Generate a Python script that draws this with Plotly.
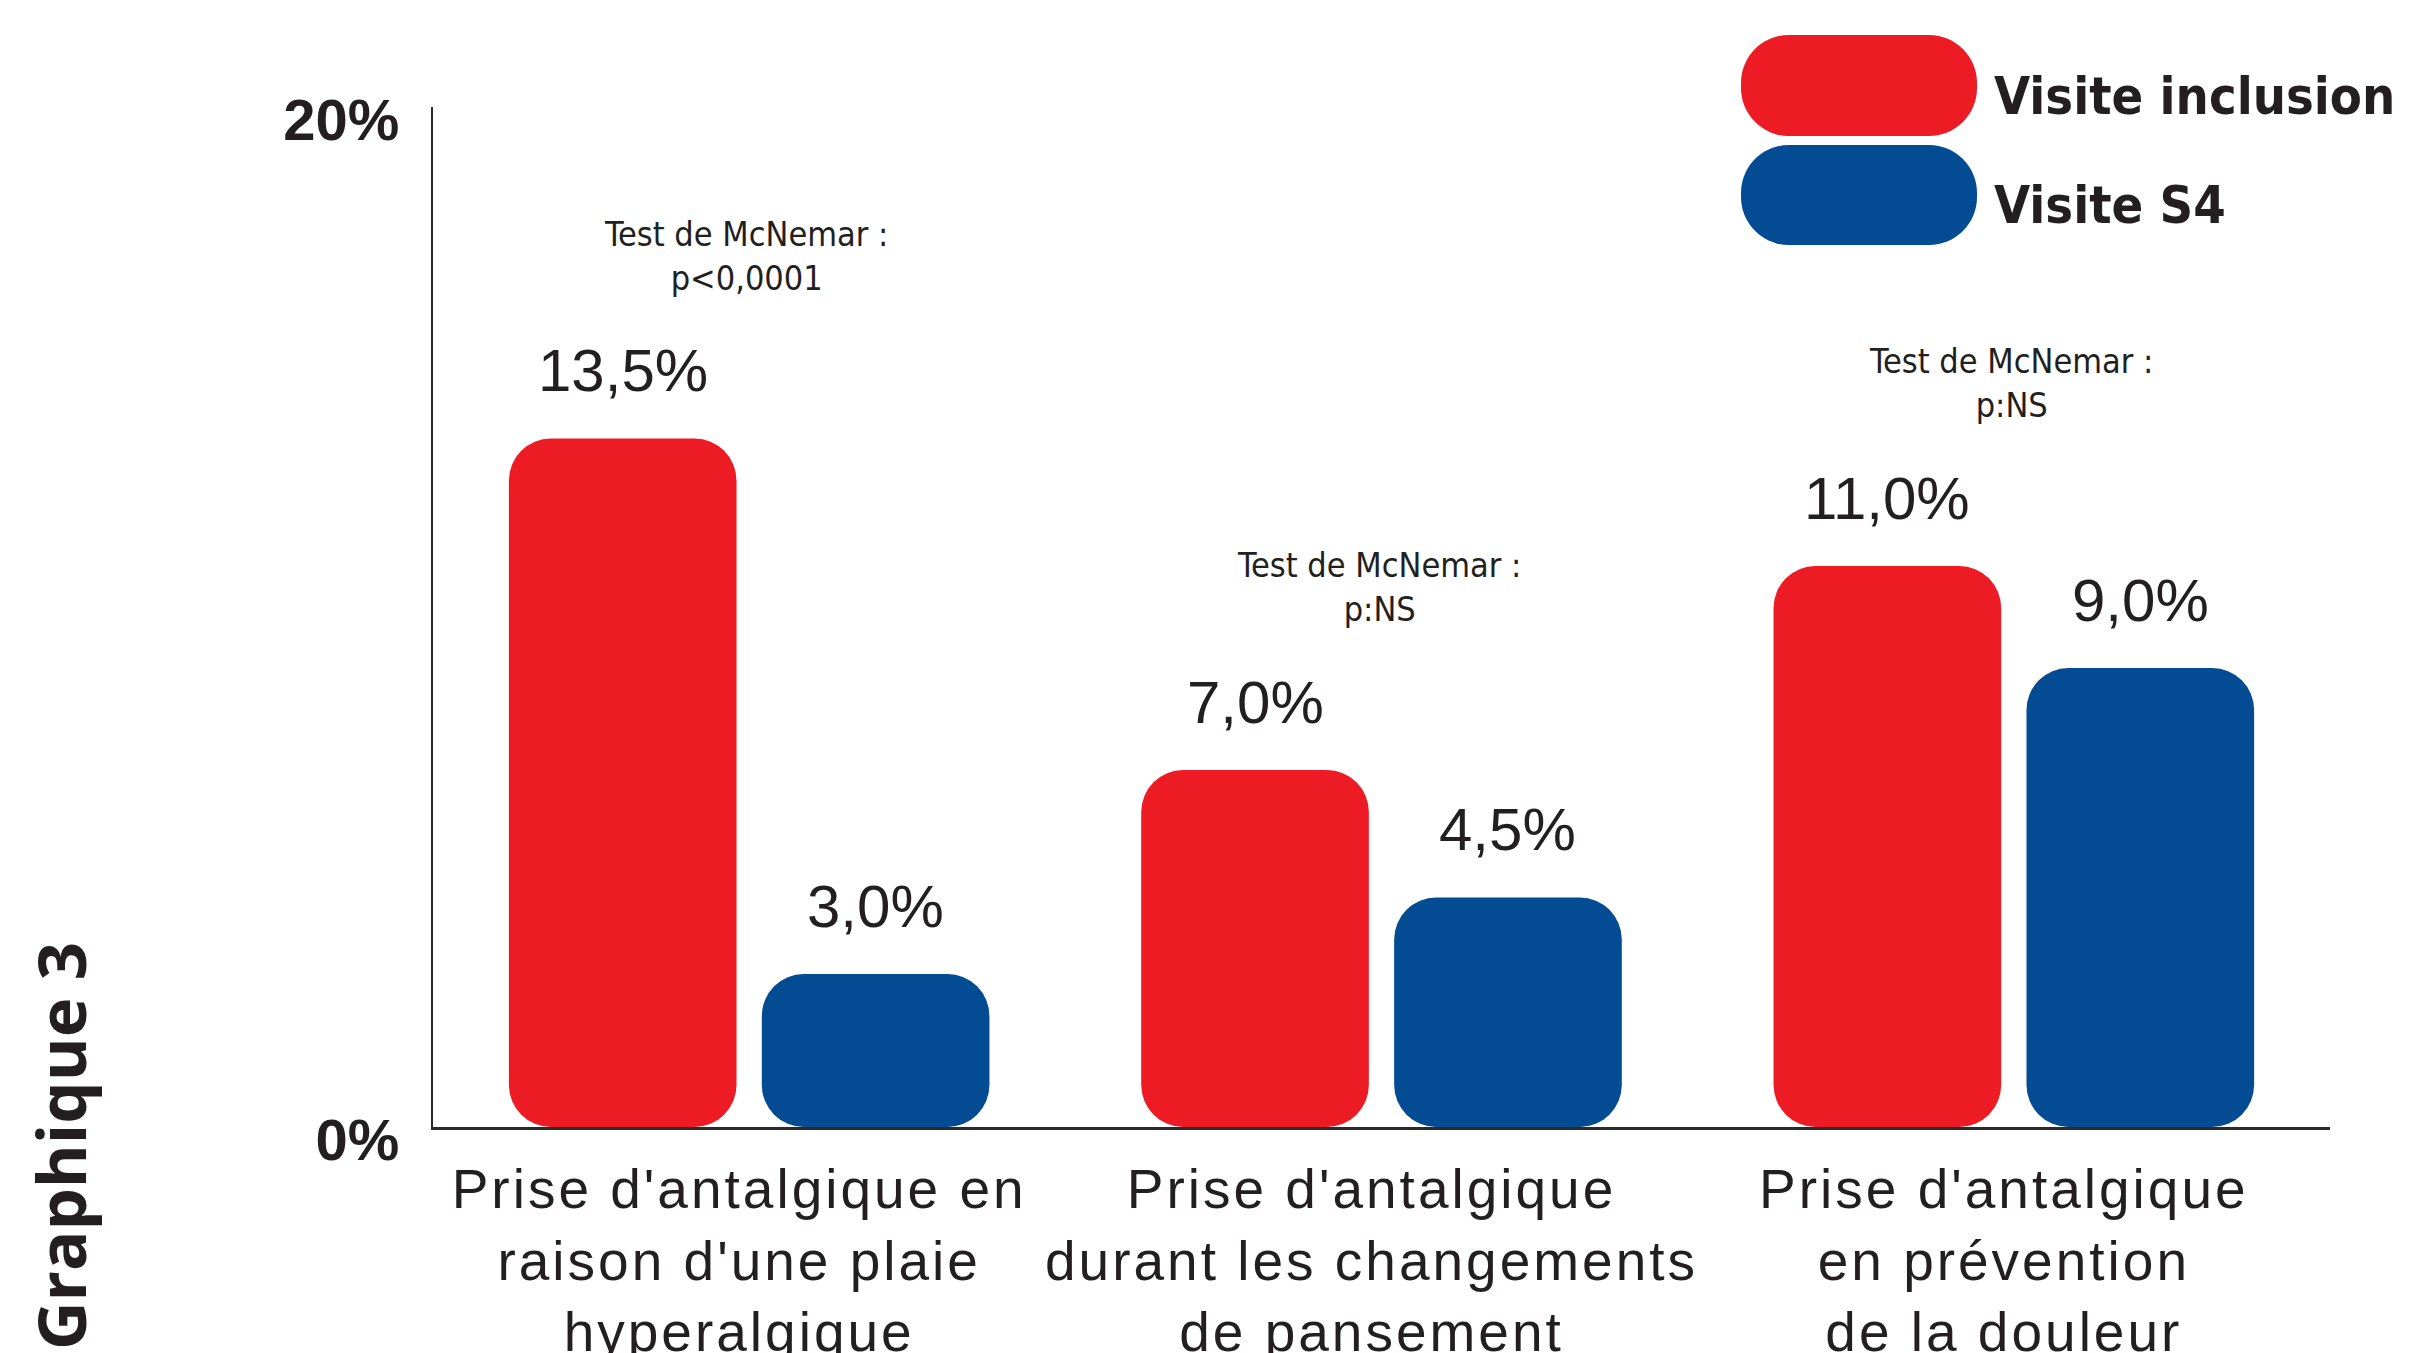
import plotly.graph_objects as go

# ---- data ----
categories = [
    "Prise d'antalgique en<br>raison d'une plaie<br>hyperalgique",
    "Prise d'antalgique<br>durant les changements<br>de pansement",
    "Prise d'antalgique<br>en prévention<br>de la douleur",
]
series_names = ["Visite inclusion", "Visite S4"]
inclusion = [13.5, 7.0, 11.0]
s4 = [3.0, 4.5, 9.0]
tests = ["Test de McNemar :<br>p&lt;0,0001", "Test de McNemar :<br>p:NS", "Test de McNemar :<br>p:NS"]
ytick_vals = [0, 20]
ytick_text = ["0%", "20%"]
YMAX = 20

RED = "#ED1C24"
BLUE = "#034C94"
TXT = "#231F20"
OFF = 8  # page body margin
W, H = 2416 - OFF, 1353 - OFF
# plot area in screen pixels: x 433..2330, y 107..1127
ML, MT = 433 - OFF, 107 - OFF
MR, MB = W - (2330 - OFF), H - (1127 - OFF)
PW, PH = W - ML - MR, H - MT - MB

COND = "DejaVu Sans Condensed, Liberation Sans Narrow, Liberation Sans, sans-serif"
SANS = "Liberation Sans, Arial, Helvetica, sans-serif"

fig = go.Figure()
idx = list(range(len(categories)))
offsets = [-0.2, 0.2]
bw = 0.36
for vals, off, col, name in zip([inclusion, s4], offsets, [RED, BLUE], series_names):
    xs = [i + off for i in idx]
    # floating bar on a twin axis shifted by YMAX (same pixels as the main axis)
    fig.add_trace(go.Bar(x=xs, y=vals, base=[-YMAX] * len(vals),
                         width=bw, marker=dict(color=col, line=dict(width=0), cornerradius=42),
                         name=name, showlegend=False, yaxis="y2"))

annotations = []
for vals, off in zip([inclusion, s4], offsets):
    for i, v in zip(idx, vals):
        annotations.append(dict(x=i + off, y=v, xref="x", yref="y", yshift=68, yanchor="middle",
                                text=f"{v:.1f}".replace(".", ",") + "%", showarrow=False,
                                font=dict(family=SANS, size=60, color=TXT)))
for i in idx:
    top = max(inclusion[i], s4[i])
    annotations.append(dict(x=i, y=top, xref="x", yref="y", yshift=183, yanchor="middle", xshift=-3,
                            text=tests[i], showarrow=False,
                            font=dict(family=COND, size=34, color=TXT)))

# legend drawn manually (screen pixel coords -> paper)
def px2paper(px, py):
    return (px - OFF - ML) / PW, (MT + PH - (py - OFF)) / PH

def rounded_path(x0, y0, x1, y1, r):
    k = 0.5523 * r
    def P(x, y):
        a, b = px2paper(x, y)
        return f"{a:.5f},{b:.5f}"
    d = f"M{P(x0 + r, y0)} L{P(x1 - r, y0)} C{P(x1 - r + k, y0)} {P(x1, y0 + r - k)} {P(x1, y0 + r)} "
    d += f"L{P(x1, y1 - r)} C{P(x1, y1 - r + k)} {P(x1 - r + k, y1)} {P(x1 - r, y1)} "
    d += f"L{P(x0 + r, y1)} C{P(x0 + r - k, y1)} {P(x0, y1 - r + k)} {P(x0, y1 - r)} "
    d += f"L{P(x0, y0 + r)} C{P(x0, y0 + r - k)} {P(x0 + r - k, y0)} {P(x0 + r, y0)} Z"
    return d

shapes = []
leg_boxes = [(1741, 35, 1977, 136), (1741, 145, 1977, 245)]
for (x0, y0, x1, y1), col, name in zip(leg_boxes, [RED, BLUE], series_names):
    shapes.append(dict(type="path", xref="paper", yref="paper", path=rounded_path(x0, y0, x1, y1, 48),
                       fillcolor=col, line=dict(width=0), layer="above"))
    tx, ty = px2paper(1992, (y0 + y1) / 2)
    annotations.append(dict(x=tx, y=ty, xref="paper", yref="paper", xanchor="left", yanchor="middle",
                            yshift=-10, text=f"<b>{name}</b>", showarrow=False,
                            font=dict(family=COND, size=52, color=TXT)))

gx, gy = px2paper(60, 1146)
annotations.append(dict(x=gx, y=gy, xref="paper", yref="paper", xanchor="center", yanchor="middle",
                        text="<b>Graphique 3</b>", textangle=-90, showarrow=False,
                        font=dict(family="Open Sans, Noto Sans, sans-serif", size=67, color=TXT)))

ticktext = ['<span style="letter-spacing:3px">' + c.replace("<br>", '</span><br><span style="letter-spacing:3px">') + "</span>"
            for c in categories]

fig.update_layout(
    width=W, height=H,
    margin=dict(l=ML, r=MR, t=MT, b=MB, autoexpand=False),
    paper_bgcolor="white", plot_bgcolor="white",
    barmode="overlay",
    showlegend=False,
    annotations=annotations,
    shapes=shapes,
    xaxis=dict(range=[-0.5, 2.5], tickmode="array", tickvals=idx, ticktext=ticktext,
               showline=True, linecolor="#2a2a2a", linewidth=3, ticks="", showgrid=False,
               zeroline=False, tickfont=dict(family=SANS, size=55, color=TXT), fixedrange=True,
               automargin=False, ticklabelstandoff=12, ticklabelshift=-10),
    yaxis=dict(range=[0, YMAX], tickmode="array", tickvals=ytick_vals, ticktext=[f"<b>{t}</b>" for t in ytick_text],
               showline=True, linecolor="#2a2a2a", linewidth=2, ticks="", showgrid=False,
               zeroline=False, tickfont=dict(family=SANS, size=58, color=TXT),
               ticklabelshift=13, ticklabelstandoff=20, fixedrange=True, automargin=False),
    yaxis2=dict(range=[-YMAX, 0], overlaying="y", visible=False, showgrid=False, zeroline=False,
                fixedrange=True, automargin=False),
)

fig.write_html("out.html")
